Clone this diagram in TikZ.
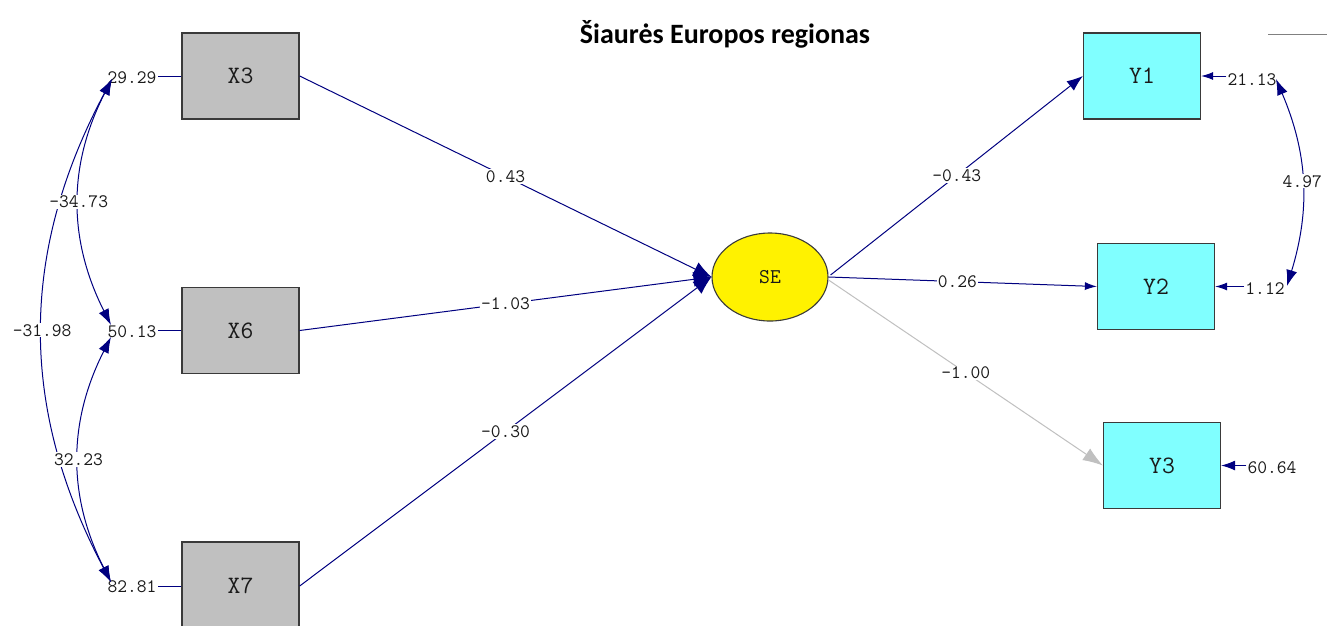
\documentclass[tikz,border=0pt]{standalone}
\usepackage{fontspec}
\newfontfamily\titlefont{Carlito}
\usetikzlibrary{arrows.meta,calc,shapes.geometric}
\definecolor{navy}{HTML}{000080}
\definecolor{boxgray}{HTML}{C0C0C0}
\definecolor{cyanbox}{HTML}{80FFFF}
\definecolor{edgegray}{HTML}{3A3A3A}
\definecolor{lightline}{HTML}{C0C0C0}
\definecolor{txt}{HTML}{1A1A1A}
\newcommand{\boxfont}{\ttfamily\fontsize{25}{28}\selectfont}
\newcommand{\sefont}{\ttfamily\fontsize{21}{24}\selectfont}
\newcommand{\numfont}{\ttfamily\fontsize{19}{22}\selectfont}
\tikzset{
  xbox/.style={draw=edgegray, line width=1.3pt, fill=boxgray, minimum width=117pt, minimum height=86pt, inner sep=0pt, font=\boxfont, text=txt},
  ybox/.style={xbox, fill=cyanbox},
  latent/.style={ellipse, draw=edgegray, line width=1.1pt, fill=yellow, minimum width=116pt, minimum height=88pt, inner sep=0pt, font=\sefont, text=txt},
  num/.style={font=\numfont, inner sep=1pt, fill=white, text=txt},
  navyline/.style={draw=navy, line width=1pt},
  bigtip/.style={-{Latex[length=18pt,width=15pt]}},
  midtip/.style={-{Latex[length=16pt,width=12pt]}},
  smalltip/.style={-{Latex[length=12pt,width=8pt]}},
  covtips/.style={{Latex[length=16pt,width=11pt]}-{Latex[length=16pt,width=11pt]}},
}
\begin{document}
\begin{tikzpicture}[x=1pt,y=-1pt]
\useasboundingbox (0,0) rectangle (1327,625);
\clip (0,0) rectangle (1327,625);
\fill[white] (0,0) rectangle (1327,625);

% title
\node[font=\titlefont\bfseries\fontsize{28}{32}\selectfont, text=black] (title) at (725,34) {Šiaurės Europos regionas};
\draw[gray, line width=1pt] (1268,34) -- (1327,34);

% boxes
\node[xbox] (X3) at (240.5,76) {X3};
\node[xbox] (X6) at (240.5,330.5) {X6};
\node[xbox, minimum height=88pt] (X7) at (240.5,586) {X7};
\node[ybox] (Y1) at (1142,76) {Y1};
\node[ybox] (Y2) at (1156,286.5) {Y2};
\node[ybox] (Y3) at (1162,465.5) {Y3};
\node[latent] (SE) at (770,277) {SE};

% error variances, left
\node[num, fill=none] (e3) at (132,78) {29.29};
\node[num, fill=none] (e6) at (132,332) {50.13};
\node[num, fill=none] (e7) at (132,587) {82.81};
\draw[navyline] (X3.west) -- (X3.west -| e3.east);
\draw[navyline] (X6.west) -- (X6.west -| e6.east);
\draw[navyline] (X7.west) -- (X7.west -| e7.east);

\coordinate (c3) at (112,79);
\coordinate (c6a) at (111,325);
\coordinate (c6b) at (111,337);
\coordinate (c7) at (111,582);
\draw[navyline, covtips] (c3) to[bend right=28] node[num] {-31.98} (c7);
\draw[navyline, covtips] (c3) to[bend right=27] node[num] {-34.73} (c6a);
\draw[navyline, covtips] (c6b) to[bend right=27] node[num] {32.23} (c7);

% paths to SE
\draw[navyline, bigtip] (X3.east) -- node[num] {0.43} (SE.west);
\draw[navyline, bigtip] (X6.east) -- node[num] {-1.03} (SE.west);
\draw[navyline, bigtip] (X7.east) -- node[num] {-0.30} (SE.west);

% paths from SE
\draw[navyline, midtip] ($(SE.east)+(2,-2)$) -- node[num] {-0.43} (Y1.west);
\draw[navyline, smalltip] (SE.east) -- node[num, pos=0.48] {0.26} (Y2.west);
\draw[lightline, line width=1pt, -{Latex[length=20pt,width=14pt]}] ($(SE.east)+(0,3)$) -- node[num] {-1.00} (Y3.west);

% error variances, right
\node[num, fill=none] (e21) at (1252,80) {21.13};
\node[num, fill=none] (e12) at (1265,289) {1.12};
\node[num, fill=none] (e60) at (1272,468) {60.64};
\draw[navyline, smalltip] (Y1.east -| e21.west) -- (Y1.east);
\draw[navyline, smalltip] (e12.west |- Y2.east) -- (Y2.east);
\draw[navyline, -{Latex[length=14pt,width=10pt]}] (e60.west |- Y3.east) -- (Y3.east);

\coordinate (d1) at (1276,79);
\coordinate (d2) at (1287,286);
\draw[navyline, covtips] (d1) to[bend left=20] node[num] {4.97} (d2);
\end{tikzpicture}
\end{document}
